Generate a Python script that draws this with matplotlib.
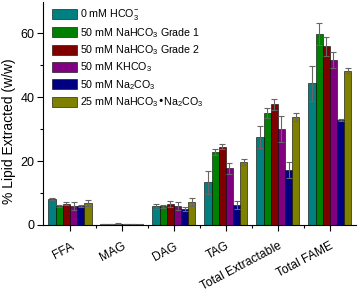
import numpy as np
import matplotlib
matplotlib.use("Agg")
import matplotlib.pyplot as plt

plt.rcParams['font.family'] = ['Liberation Sans', 'DejaVu Sans']
plt.rcParams['mathtext.default'] = 'regular'

# Data
categories = ['FFA', 'MAG', 'DAG', 'TAG', 'Total Extractable', 'Total FAME']
series_names = ['0 mM HCO$_3^{-}$',
                '50 mM NaHCO$_3$ Grade 1',
                '50 mM NaHCO$_3$ Grade 2',
                '50 mM KHCO$_3$',
                '50 mM Na$_2$CO$_3$',
                '25 mM NaHCO$_3$\u2022Na$_2$CO$_3$']
hco3_0 = [8.0, 0.3, 5.9, 13.3, 27.6, 44.3]
nahco3_g1 = [6.0, 0.3, 5.8, 22.9, 35.0, 59.7]
nahco3_g2 = [6.6, 0.4, 6.5, 24.4, 37.7, 55.9]
khco3 = [5.9, 0.3, 6.0, 17.7, 30.0, 51.6]
na2co3 = [6.0, 0.3, 5.0, 6.2, 17.2, 32.8]
mixed = [6.8, 0.2, 7.1, 19.6, 33.7, 48.2]

hco3_0_err = [0.3, 0.1, 0.8, 3.5, 3.4, 5.4]
nahco3_g1_err = [0.3, 0.1, 0.6, 1.0, 1.5, 3.4]
nahco3_g2_err = [0.5, 0.1, 1.0, 0.8, 1.8, 3.0]
khco3_err = [1.2, 0.1, 1.3, 1.8, 4.0, 2.4]
na2co3_err = [0.3, 0.1, 0.6, 1.3, 2.6, 0.3]
mixed_err = [1.0, 0.1, 1.2, 0.9, 1.3, 0.8]

values = [hco3_0, nahco3_g1, nahco3_g2, khco3, na2co3, mixed]
errors = [hco3_0_err, nahco3_g1_err, nahco3_g2_err, khco3_err, na2co3_err, mixed_err]
colors = ['#008080', '#008000', '#800000', '#800080', '#000080', '#808000']

fig = plt.figure(figsize=(3.58, 2.92), dpi=100)
ax = fig.add_axes([0.12, 0.2295, 0.874, 0.7635])

x = np.arange(len(categories))
width = 0.138
for i, (vals, errs, col, name) in enumerate(zip(values, errors, colors, series_names)):
    pos = x + (i - 2.5) * width
    ax.bar(pos, vals, width, color=col, edgecolor='black', linewidth=0.4, label=name)
    ax.errorbar(pos, vals, yerr=errs, fmt='none', ecolor='#666666',
                elinewidth=0.8, capsize=2, capthick=0.8)

ax.set_xlim(-0.52, 5.5)
ax.set_ylim(0, 69.7)
ax.set_yticks([0, 20, 40, 60])
ax.set_yticks([10, 30, 50], minor=True)
ax.set_xticks(x)
ax.set_xticks(x[:-1] + 0.5, minor=True)
ax.set_xticklabels(categories, rotation=28, ha='right', rotation_mode='anchor', fontsize=8.7)
ax.tick_params(axis='y', labelsize=9, length=4, width=0.8, pad=2)
ax.tick_params(axis='x', length=4, width=0.8, pad=7)
ax.tick_params(which='minor', length=2.5, width=0.8)
ax.spines['top'].set_visible(False)
ax.spines['right'].set_visible(False)
ax.set_ylabel('% Lipid Extracted (w/w)', fontsize=10)
ax.yaxis.set_label_coords(-0.085, 0.42)

ax.legend(loc='upper left', bbox_to_anchor=(0.012, 1.0), fontsize=7.7, frameon=False,
          handlelength=2.3, handleheight=1.05, labelspacing=0.33, handletextpad=0.35,
          borderaxespad=0.1)

fig.savefig('out.png', dpi=100)
